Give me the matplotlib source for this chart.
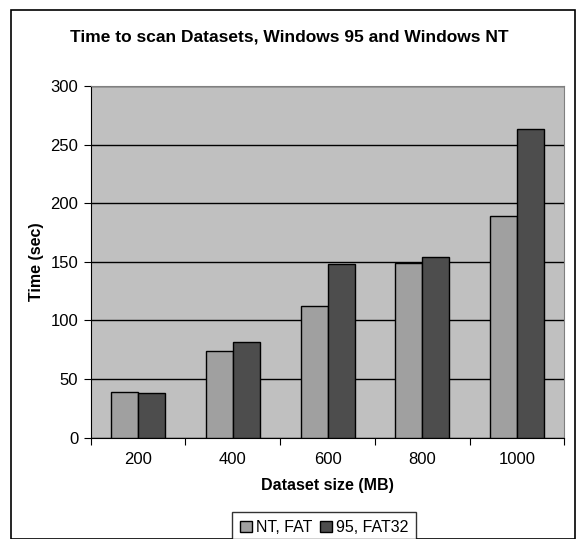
import numpy as np
import matplotlib
matplotlib.use("Agg")
import matplotlib.pyplot as plt
from matplotlib.patches import Rectangle

# ─── Data ────────────────────────────────────────────────────────────────────

sizes = ["200", "400", "600", "800", "1000"]
nt_fat = [39, 74, 112, 149, 189]
w95_fat32 = [38, 82, 148, 154, 263]
series_names = ["NT, FAT", "95, FAT32"]

# ─── Figure ──────────────────────────────────────────────────────────────────

plt.rcParams["font.family"] = ["Liberation Sans", "DejaVu Sans"]

fig = plt.figure(figsize=(5.77, 5.39), dpi=100)
fig.patches.append(Rectangle((11 / 577, 0), 564 / 577, 1 - 10 / 539,
                             transform=fig.transFigure, fill=False,
                             edgecolor="black", linewidth=1.2))

ax = fig.add_axes([0.1572, 0.1879, 0.8208, 0.6525])
ax.set_facecolor("#c0c0c0")

x = np.arange(len(sizes))
w = 0.285
ax.bar(x - w / 2, nt_fat, w, color="#a0a0a0", edgecolor="black",
       linewidth=1, label=series_names[0], zorder=3)
ax.bar(x + w / 2, w95_fat32, w, color="#4d4d4d", edgecolor="black",
       linewidth=1, label=series_names[1], zorder=3)

ax.set_xlim(-0.5, len(sizes) - 0.5)
ax.set_ylim(0, 300)
ax.set_yticks(range(0, 301, 50))
ax.yaxis.grid(True, color="black", linewidth=1, zorder=1)
ax.set_axisbelow(True)

# category boundary ticks, labels centred in each category
ax.set_xticks(np.arange(-0.5, len(sizes), 1.0))
ax.set_xticklabels([])
ax.set_xticks(x, minor=True)
ax.set_xticklabels(sizes, minor=True)
ax.tick_params(axis="x", which="minor", length=0, pad=10, labelsize=12)
ax.tick_params(axis="x", which="major", length=5, direction="out")
ax.tick_params(axis="y", length=5, direction="out", labelsize=12, pad=4)

for s in ["top", "right"]:
    ax.spines[s].set_color("#808080")
for s in ["left", "bottom"]:
    ax.spines[s].set_color("black")

ax.set_xlabel("Dataset size (MB)", fontsize=11.5, fontweight="bold")
ax.set_ylabel("Time (sec)", fontsize=11.5, fontweight="bold")
ax.xaxis.set_label_coords(0.5, -0.1345)
ax.xaxis.label.set_va("center")
ax.yaxis.set_label_coords(-0.1155, 0.5)
ax.yaxis.label.set_va("center")

fig.text(0.502, 1 - 37.5 / 539, "Time to scan Datasets, Windows 95 and Windows NT",
         ha="center", va="center", fontsize=12.5, fontweight="bold")

leg = fig.legend(loc="upper center", bbox_to_anchor=(0.5615, 1 - 512 / 539),
                 ncol=2, fontsize=11.5, frameon=True, fancybox=False,
                 handlelength=0.75, handleheight=0.75, handletextpad=0.25,
                 columnspacing=0.5, borderpad=0.5, borderaxespad=0)
leg.get_frame().set_edgecolor("black")
leg.get_frame().set_linewidth(1)

plt.savefig("out.png", dpi=100)
